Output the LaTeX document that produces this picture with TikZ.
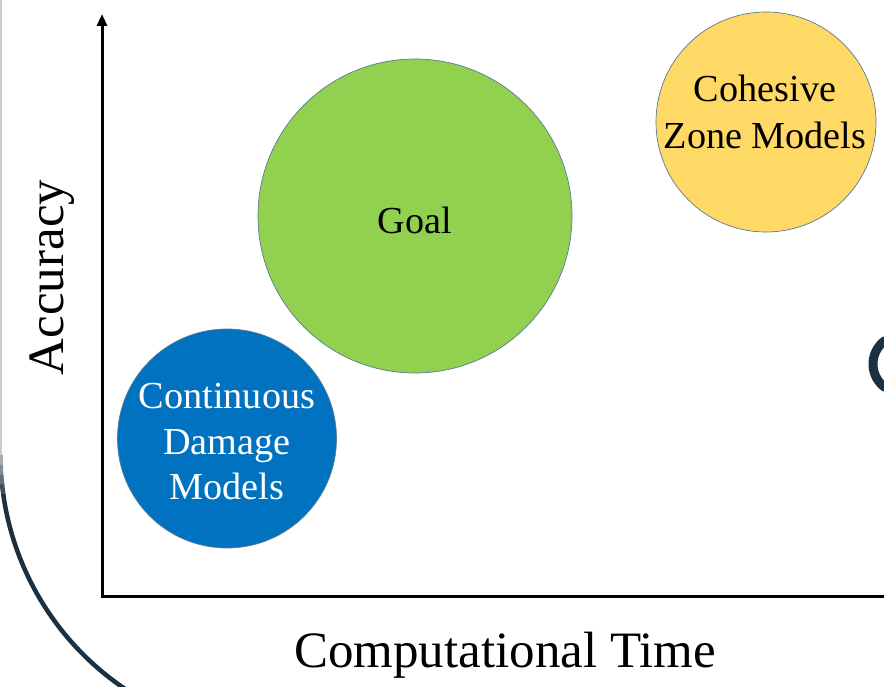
\documentclass[tikz,border=0pt]{standalone}
\usepackage{fontspec}
\setmainfont{Liberation Serif}
\usetikzlibrary{arrows.meta}
\definecolor{cdmblue}{RGB}{0,114,192}
\definecolor{goalgreen}{RGB}{146,208,80}
\definecolor{czmyellow}{RGB}{255,217,102}
\definecolor{rimcol}{RGB}{90,122,150}
\definecolor{edge}{RGB}{27,48,64}
\definecolor{edgelight}{RGB}{200,205,210}
\tikzset{
  bubble/.style={circle, inner sep=0pt, draw=rimcol, line width=0.7pt},
  bubbletext/.style={align=center, inner sep=0pt, font=\fontsize{38.2}{45.5}\selectfont},
  axislabel/.style={inner sep=0pt, font=\fontsize{51}{60}\selectfont},
  axisline/.style={line width=3pt, line join=miter, draw=black},
  frameline/.style={line width=4.5pt, draw=edge}
}
\begin{document}
\begin{tikzpicture}[x=1pt,y=1pt]
\useasboundingbox (0,0) rectangle (884,686);
\clip (0,0) rectangle (884,686);
\fill[white] (0,0) rectangle (884,686);
% frame edge on the left
\draw[line width=1.6pt, draw=edgelight] (0.8,690) -- (0.8,231);
\foreach \a/\c in {180/20,182/40,184/60,186/80}{
  \draw[frameline, draw=edge!\c!edgelight] (282.5,231) ++(\a:282) arc[start angle=\a, end angle=\a+2.3, radius=282];
}
\draw[frameline] (282.5,231) ++(188:282) arc[start angle=188, end angle=242, radius=282];
% partial letter on the right
\draw[line width=9pt, draw=edge] (902,322) ++(124:29) arc[start angle=124, end angle=236, radius=29];
% axes
\coordinate (ytop) at (102,672);
\coordinate (O) at (102,89);
\coordinate (xend) at (890,89);
\draw[axisline, {Triangle[width=10pt,length=12pt]}-] (ytop) -- (O) -- (xend);
% bubbles
\node[bubble, fill=cdmblue, minimum size=219pt] (cdm) at (227,247.5) {};
\node[bubble, fill=goalgreen, minimum size=314pt] (goal) at (415,470) {};
\node[bubble, fill=czmyellow, minimum size=220pt] (czm) at (766,564) {};
\node[bubbletext, text=white] (cdmtext) at (227,244) {Continuous\\Damage\\Models};
\node[bubbletext, text=black] (goaltext) at (415,466) {Goal};
\node[bubbletext, text=black, font=\fontsize{38.2}{47}\selectfont] (czmtext) at (765,574) {Cohesive\\Zone Models};
% axis labels
\node[axislabel, rotate=90, anchor=base] (acc) at (63,408.5) {Accuracy};
\node[axislabel, anchor=base] (ct) at (505,19) {Computational Time};
\end{tikzpicture}
\end{document}
